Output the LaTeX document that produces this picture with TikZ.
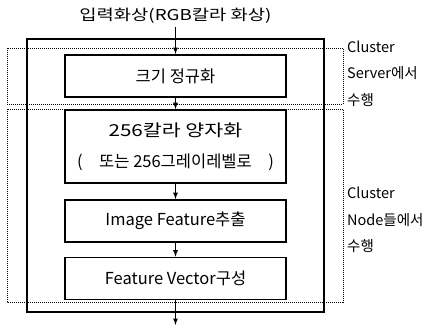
\documentclass[tikz,border=0pt]{standalone}
\usepackage{fontspec}
\setmainfont{Noto Sans CJK KR}
\newfontfamily\widekr[FakeStretch=1.25]{Noto Sans CJK KR}
\usetikzlibrary{positioning}

\begin{document}
\begin{tikzpicture}[x=1pt, y=-1pt, >=latex, on grid,
	stepbox/.style={draw, line width=1.8pt, minimum width=221pt, minimum height=42pt, inner sep=0pt, align=center, font=\fontsize{16.5}{31}\selectfont},
	group/.style={densely dotted, line width=1pt},
	note/.style={anchor=west, align=left, inner sep=0pt, font=\fontsize{14.5}{26.5}\selectfont}]
	\useasboundingbox (0,0) rectangle (433,327);

	\node (in) at (175.5,16) {\widekr\fontsize{15}{18}\selectfont 입력화상(RGB칼라 화상)};
	\node[stepbox] (1) at (175.5,76) {크기 정규화};
	\node[stepbox, minimum height=73pt] (2) [below=70.5pt of 1] {\widekr 256칼라 양자화\\(\enspace\enspace 또는 256그레이레벨로\enspace\enspace)};
	\node[stepbox] (3) [below=74.5pt of 2] {Image Feature추출};
	\node[stepbox] (4) [below=57.5pt of 3] {Feature Vector구성};
	\coordinate (out) at (175.5,325);

	% outer frame and the two groups
	\draw[line width=2.4pt] (27,39) rectangle (324,312);
	\draw[group] (7,48) rectangle (343,104);
	\draw[group] (7,109) rectangle (343,302);

	\node[note] (server) at (347,73.5) {Cluster\\Server에서\\수행};
	\node[note] (nodes) at (347,220) {Cluster\\Node들에서\\수행};

	\path[->, line width=1.2pt]
		(in) edge (1)
		(1) edge (2)
		(2) edge (3)
		(3) edge (4)
		(4) edge (out);
\end{tikzpicture}
\end{document}
